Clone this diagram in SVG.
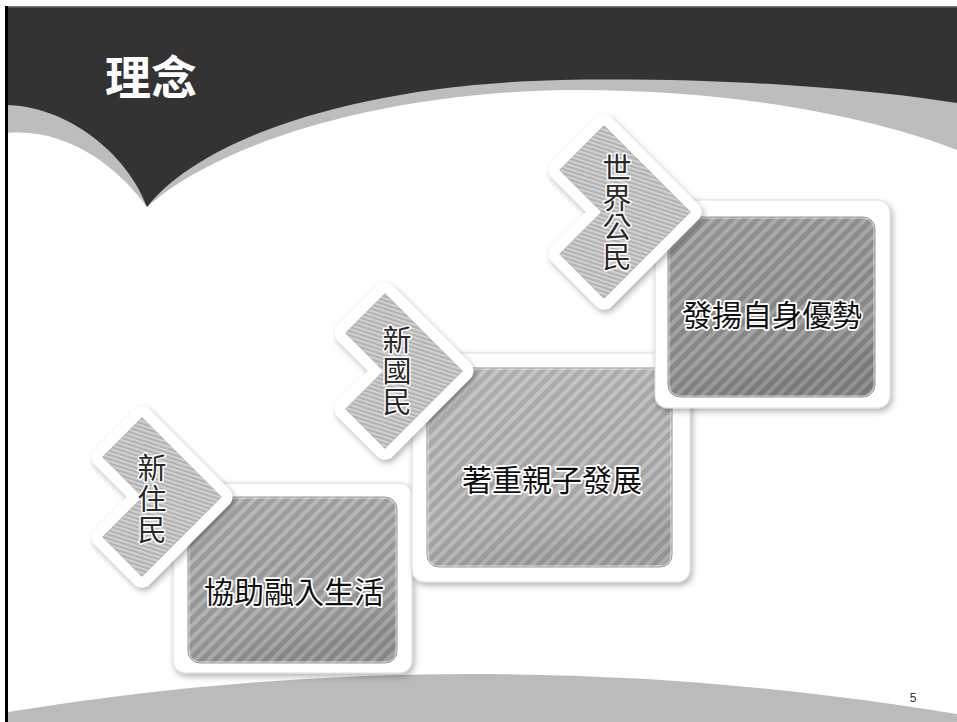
<svg xmlns="http://www.w3.org/2000/svg" width="957" height="722" viewBox="0 0 957 722">
<defs>
<style>
.frame{fill:#ffffff;stroke:#dcdcdc;stroke-width:1;filter:url(#sh)}
.inner{stroke:#7a7a7a;stroke-width:0.8}
.gloss{fill:url(#gl);stroke:rgba(255,255,255,0.45);stroke-width:1.5}
.chevout{fill:#ffffff;stroke:#ffffff;stroke-width:22;stroke-linejoin:round;filter:url(#sh)}
.chevin{fill:url(#pc);stroke:#9a9a9a;stroke-width:0.6;stroke-linejoin:round}
.lbl{font-family:"Noto Sans CJK TC","Noto Sans CJK SC",sans-serif;font-size:30px;fill:#111;stroke:#ffffff;stroke-width:3.5;paint-order:stroke;stroke-linejoin:round;text-anchor:middle}
.vl{font-family:"Noto Sans CJK TC","Noto Sans CJK SC",sans-serif;font-size:29px;fill:#2a2a2a;stroke:#ffffff;stroke-width:3;paint-order:stroke;stroke-linejoin:round;writing-mode:vertical-rl;text-anchor:start}
</style>
<filter id="sh" x="-10%" y="-10%" width="125%" height="125%">
<feDropShadow dx="2" dy="3" stdDeviation="3" flood-color="#000" flood-opacity="0.3"/>
</filter>
<pattern id="p1" patternUnits="userSpaceOnUse" width="9" height="9" patternTransform="rotate(-45)">
<rect width="9" height="9" fill="#959595"/><rect width="9" height="4" fill="#b2b2b2"/>
</pattern>
<pattern id="p2" patternUnits="userSpaceOnUse" width="9" height="9" patternTransform="rotate(-45)">
<rect width="9" height="9" fill="#a5a5a5"/><rect width="9" height="4" fill="#bfbfbf"/>
</pattern>
<pattern id="p3" patternUnits="userSpaceOnUse" width="9" height="9" patternTransform="rotate(-45)">
<rect width="9" height="9" fill="#868686"/><rect width="9" height="4" fill="#a3a3a3"/>
</pattern>
<pattern id="pc" patternUnits="userSpaceOnUse" width="4" height="4" patternTransform="rotate(18)">
<rect width="4" height="4" fill="#b2b2b2"/><rect width="4" height="1.6" fill="#d8d8d8"/>
</pattern>
<linearGradient id="gl" x1="0" y1="0" x2="0.3" y2="1">
<stop offset="0" stop-color="#ffffff" stop-opacity="0.12"/>
<stop offset="0.6" stop-color="#ffffff" stop-opacity="0"/>
<stop offset="1" stop-color="#000000" stop-opacity="0.1"/>
</linearGradient>
</defs>

<rect width="957" height="722" fill="#ffffff"/>

<!-- header -->
<path d="M8,7 H957 V150 C 880,120 740,88 560,90 C 360,95 210,150 147,207 C 120,170 70,128 8,133 Z" fill="#bdbdbd"/>
<path d="M8,7 H957 V103 C 860,88 720,77 560,80 C 350,85 200,140 147,207 C 130,160 75,108 8,105 Z" fill="#333333"/>
<rect x="5" y="6" width="952" height="1.5" fill="#777777"/>
<text x="105" y="94" font-family="Noto Sans CJK TC, Noto Sans CJK SC, sans-serif" font-size="46" font-weight="700" fill="#ffffff">理念</text>

<!-- footer -->
<path d="M8,712 Q 480,635 957,714 V722 H8 Z" fill="#bbbbbb"/>
<text x="913" y="702" font-family="Liberation Sans, Arial, sans-serif" font-size="12" fill="#333333" text-anchor="middle">5</text>
<rect x="5" y="6" width="3" height="716" fill="#000000"/>

<g id="connectors"></g>

<!-- node 1 -->
<g id="node1">
<rect class="frame" x="173" y="483" width="239" height="190" rx="12"/>
<rect class="inner" x="188" y="497" width="209" height="166" rx="12" fill="url(#p1)"/>
<rect class="gloss" x="189" y="498" width="207" height="164" rx="11"/>
<text class="lbl" x="294" y="603">協助融入生活</text>
</g>
<g id="chevron1">
<polygon class="chevout" points="142,417.6 221.4,497 142,576.4 102.6,537 142.6,497 102.6,457"/>
<polygon class="chevin" points="142,417.6 221.4,497 142,576.4 102.6,537 142.6,497 102.6,457"/>
<text class="vl" x="152" y="453.5" letter-spacing="2">新住民</text>
</g>

<!-- node 2 -->
<g id="node2">
<rect class="frame" x="412" y="353" width="278" height="229" rx="12"/>
<rect class="inner" x="427" y="368" width="245" height="199" rx="12" fill="url(#p2)"/>
<rect class="gloss" x="428" y="369" width="243" height="197" rx="11"/>
<text class="lbl" x="552" y="491">著重親子發展</text>
</g>
<g id="chevron2">
<polygon class="chevout" points="385,293.6 462.4,371 385,448.4 345.6,409 383.6,371 345.6,333"/>
<polygon class="chevin" points="385,293.6 462.4,371 385,448.4 345.6,409 383.6,371 345.6,333"/>
<text class="vl" x="397" y="325.5" letter-spacing="2">新國民</text>
</g>

<!-- node 3 -->
<g id="node3">
<rect class="frame" x="655" y="200" width="235" height="208" rx="12"/>
<rect class="inner" x="668" y="217" width="207" height="180" rx="12" fill="url(#p3)"/>
<rect class="gloss" x="669" y="218" width="205" height="178" rx="11"/>
<text class="lbl" x="772" y="326">發揚自身優勢</text>
</g>
<g id="chevron3">
<polygon class="chevout" points="604,125.6 690.4,212 604,298.4 559.6,254 601.6,212 559.6,170"/>
<polygon class="chevin" points="604,125.6 690.4,212 604,298.4 559.6,254 601.6,212 559.6,170"/>
<text class="vl" x="617" y="153.5" letter-spacing="0.7">世界公民</text>
</g>
</svg>
